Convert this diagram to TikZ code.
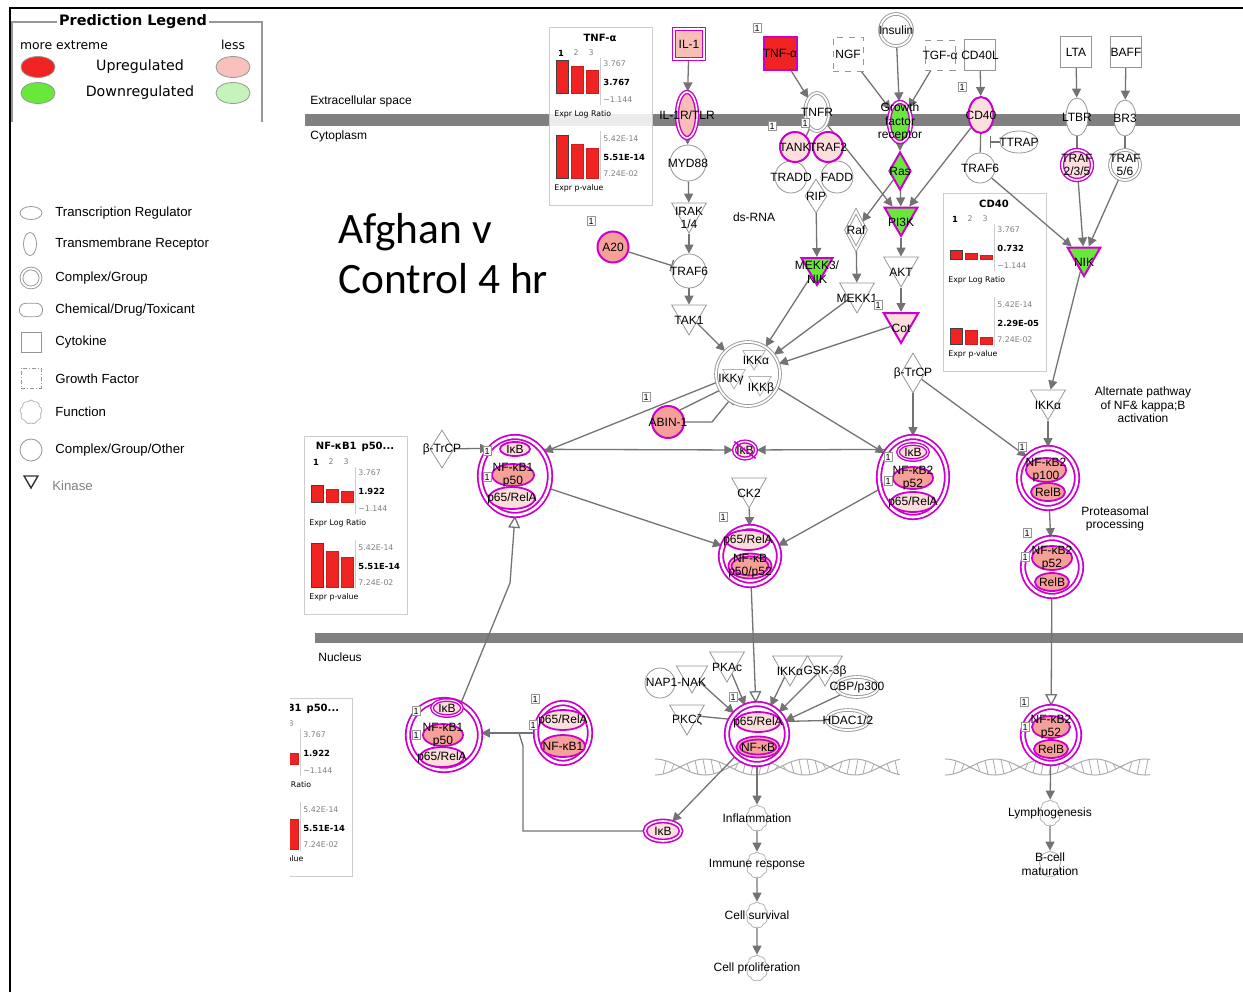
\documentclass[tikz,border=0pt]{standalone}
\usepackage{fontspec}
\setsansfont{Liberation Sans}
\newfontfamily\titlefont{Carlito}
\newfontfamily\legfont{DejaVu Sans}
\usepackage{tikz}
\usetikzlibrary{shapes.geometric,shapes.symbols,arrows.meta,backgrounds,calc}

\definecolor{mag}{RGB}{204,0,204}
\definecolor{salmon}{RGB}{245,160,152}
\definecolor{lpink}{RGB}{252,222,220}
\definecolor{upred}{RGB}{240,35,35}
\definecolor{dngreen}{RGB}{105,232,60}
\definecolor{lgreen}{RGB}{196,244,186}
\definecolor{edgegray}{RGB}{115,115,115}
\definecolor{nodegray}{RGB}{150,150,150}
\definecolor{membgray}{RGB}{128,128,128}
\definecolor{boxgray}{RGB}{205,205,205}

\newcommand{\nf}{\sffamily\fontsize{6}{6.8}\selectfont}
\newcommand{\bxf}{\legfont\fontsize{3.9}{4.5}\selectfont}
\newcommand{\bxb}{\legfont\bfseries\fontsize{4.2}{4.8}\selectfont}

\tikzset{
  lbl/.style={label={[align=center,inner sep=0pt,font=\nf]center:#1}},
  klbl/.style={label={[align=center,inner sep=0pt,font=\nf,yshift=-2.5pt]center:#1}},
  gcirc/.style={circle,draw=nodegray,fill=white,inner sep=0pt,minimum size=17pt},
  mcirc/.style={circle,draw=mag,line width=1pt,fill=lpink,inner sep=0pt,minimum size=16pt},
  kin/.style={regular polygon,regular polygon sides=3,shape border rotate=180,draw=nodegray,fill=white,inner sep=0pt,minimum size=20pt},
  mkin/.style={kin,draw=mag,line width=1pt,fill=dngreen},
  dia/.style={diamond,draw=nodegray,fill=white,inner sep=0pt,minimum width=12pt,minimum height=20pt},
  ell/.style={ellipse,draw=nodegray,fill=white,inner sep=0pt,minimum width=20pt,minimum height=11pt},
  gdbl/.style={double=white,double distance=0.9pt,line width=0.45pt},
  sq/.style={rectangle,draw=nodegray,fill=white,inner sep=0pt,minimum size=15pt},
  cplx/.style={ellipse,draw=mag,line width=0.9pt,double=white,double distance=1.3pt,fill=white,inner sep=0pt},
  sub/.style={ellipse,draw=mag,line width=0.9pt,fill=salmon,inner sep=0pt},
  fn/.style={cloud,cloud puffs=9,cloud puff arc=110,draw=nodegray!70,fill=white,inner sep=0pt,minimum width=11pt,minimum height=13pt},
  one/.style={draw=nodegray,fill=white,font=\sffamily\fontsize{4.5}{5}\selectfont,inner sep=0.8pt},
  ln/.style={draw=edgegray,line width=0.65pt},
  ar/.style={ln,-{Triangle[length=4.5pt,width=4.5pt]}},
  oar/.style={ln,-{Triangle[length=6pt,width=6pt,fill=white]}},
  inh/.style={ln,-{Bar[width=6pt]}},
}

% expression bar chart: pos, name, title, log bars, log value, p bars, p value
\newcommand{\exprbox}[7]{%
  \begin{scope}[shift={(#1)}]
    \node[draw=boxgray,line width=0.6pt,fill=white,fill opacity=.85,anchor=north west,
          minimum width=51.5pt,minimum height=89pt,inner sep=0pt] (#2) at (0,0) {};
    \node[font=\legfont\bfseries\fontsize{5}{6}\selectfont] (#2-t) at (51,11) {#3};
    \node[font=\bxb,text=black] (#2-n1) at (12,26) {1};
    \node[font=\bxf,text=gray] (#2-n2) at (27,26) {2};
    \node[font=\bxf,text=gray] (#2-n3) at (42,26) {3};
    \foreach \a/\b/\c in {#4}{
      \draw[fill=upred,draw=black!75,line width=0.5pt] (7,66) rectangle (19,{66-\a});
      \draw[fill=upred,draw=upred!85!black,line width=0.3pt] (22,66) rectangle (34,{66-\b});
      \draw[fill=upred,draw=upred!85!black,line width=0.3pt] (37,66) rectangle (49,{66-\c});
    }
    \foreach \a/\b/\c in {#6}{
      \draw[fill=upred,draw=black!75,line width=0.5pt] (7,151) rectangle (19,{151-\a});
      \draw[fill=upred,draw=upred!85!black,line width=0.3pt] (22,151) rectangle (34,{151-\b});
      \draw[fill=upred,draw=upred!85!black,line width=0.3pt] (37,151) rectangle (49,{151-\c});
    }
    \draw[boxgray,line width=0.5pt] (51,31) -- (51,78) (51,104) -- (51,153);
    \node[font=\bxf,text=gray,anchor=west,inner sep=0pt] (#2-l1) at (54,37) {3.767};
    \node[font=\bxb,anchor=west,inner sep=0pt] (#2-l2) at (54,55) {#5};
    \node[font=\bxf,text=gray,anchor=west,inner sep=0pt] (#2-l3) at (54,73) {−1.144};
    \node[font=\bxf,anchor=west,inner sep=0pt] (#2-l4) at (5,87) {Expr Log Ratio};
    \node[font=\bxf,text=gray,anchor=west,inner sep=0pt] (#2-p1) at (54,112) {5.42E-14};
    \node[font=\bxb,anchor=west,inner sep=0pt] (#2-p2) at (54,130) {#7};
    \node[font=\bxf,text=gray,anchor=west,inner sep=0pt] (#2-p3) at (54,147) {7.24E-02};
    \node[font=\bxf,anchor=west,inner sep=0pt] (#2-p4) at (5,161) {Expr p-value};
  \end{scope}}

% flat DNA ribbon
\newcommand{\dnahelix}[3]{%
  \draw[nodegray!80,line width=0.5pt] plot[domain=0:#3,samples=90] ({#1+\x},{#2+8*cos(\x*3.6)})
        plot[domain=0:#3,samples=90] ({#1+\x},{#2-8*cos(\x*3.6)});
  \foreach \s in {8,16,...,#3}
    \draw[nodegray!80,line width=0.4pt] ({#1+\s},{#2+8*cos(\s*3.6)}) -- ({#1+\s+3},{#2-8*cos((\s+3)*3.6)});
}

\begin{document}
\begin{tikzpicture}[x=0.5pt,y=-0.5pt,font=\nf]
\useasboundingbox (0,0) rectangle (1243,992);
\draw[black,line width=1pt] (10,992) -- (10,8) -- (1243,8);

% prediction legend
\draw[nodegray,line width=0.7pt] (12,122) |- (262,22) -- (262,122);
\node[fill=white,font=\legfont\bfseries\fontsize{7.2}{8}\selectfont,inner sep=1pt] (legtitle) at (133,22) {Prediction Legend};
\node[font=\legfont\fontsize{6.2}{7}\selectfont] (legmore) at (64,45) {more extreme};
\node[font=\legfont\fontsize{6.2}{7}\selectfont] (legless) at (233,45) {less};
\node[ellipse,draw=nodegray,fill=upred,minimum width=17pt,minimum height=10.5pt] (lgr1) at (38,67) {};
\node[ellipse,draw=nodegray,fill=dngreen,minimum width=17pt,minimum height=10.5pt] (lgr2) at (38,93) {};
\node[ellipse,draw=nodegray,fill=salmon!65,minimum width=17pt,minimum height=10.5pt] (lgr3) at (233,67) {};
\node[ellipse,draw=nodegray,fill=lgreen,minimum width=17pt,minimum height=10.5pt] (lgr4) at (233,93) {};
\node[font=\legfont\fontsize{7.1}{8}\selectfont] (legup) at (140,67) {Upregulated};
\node[font=\legfont\fontsize{7.1}{8}\selectfont] (legdn) at (140,93) {Downregulated};

% shape legend
\node[ell,minimum width=11pt,minimum height=6.5pt] (lgtr) at (31,213) {};
\node[ell,minimum width=6.5pt,minimum height=11.5pt] (lgtm) at (30,244) {};
\node[circle,draw=nodegray,fill=white,gdbl,minimum size=9.5pt,inner sep=0pt] (lgcg) at (31,278) {};
\node[rectangle,rounded corners=3pt,draw=nodegray,minimum width=11.5pt,minimum height=6.5pt] (lgch) at (31,310) {};
\node[sq,minimum size=10pt] (lgck) at (31,342) {};
\node[sq,minimum size=10pt,dash pattern=on 2pt off 1pt on 0.5pt off 1pt] (lggf) at (31,378) {};
\node[fn,minimum width=11pt,minimum height=12pt] (lgfn) at (31,412) {};
\node[gcirc,minimum size=11pt] (lgco) at (31,450) {};
\node[kin,draw=black!80,line width=0.7pt,minimum size=8pt] (lgkn) at (31,480) {};
\foreach \y/\t [count=\i] in {213/Transcription Regulator,244/Transmembrane Receptor,278/Complex\slash Group,
    310/Chemical\slash Drug\slash Toxicant,342/Cytokine,379/Growth Factor,412/Function,450/Complex\slash Group\slash Other}
  \node[anchor=west,inner sep=0pt,font=\sffamily\fontsize{6.6}{7.5}\selectfont] (lgt\i) at (55,\y) {\t};
\node[anchor=west,inner sep=0pt,font=\sffamily\fontsize{6.6}{7.5}\selectfont,text=gray] (lgt9) at (52,486) {Kinase};

% title
\node[anchor=base west,font=\titlefont\fontsize{21.7}{25}\selectfont,inner sep=0pt] (title1) at (338,243) {Afghan v};
\node[anchor=base west,font=\titlefont\fontsize{21.7}{25}\selectfont,inner sep=0pt] (title2) at (338,293) {Control 4 hr};

% membranes, charts, DNA
\begin{scope}[on background layer]
  \fill[membgray] (305,114) rectangle (1240,126);
  \fill[membgray] (315,633) rectangle (1243,643);
  \exprbox{549,27}{tnfbox}{TNF-α}{33/27/23}{3.767}{43/34/30}{5.51E-14}
  \exprbox{943,193}{cdbox}{CD40}{9/6/4}{0.732}{16/14/7}{2.29E-05}
  \exprbox{304,436}{nfbox}{NF-κB1\enspace p50...}{17/13/11}{1.922}{44/36/30}{5.51E-14}
  \begin{scope}
    \clip (290,690) rectangle (360,885);
    \exprbox{249,698}{nfboxn}{NF-κB1\enspace p50...}{17/13/11}{1.922}{44/36/30}{5.51E-14}
  \end{scope}
  \dnahelix{655}{767}{245}
  \dnahelix{945}{767}{205}
\end{scope}

\node[anchor=west,inner sep=0pt] (extra) at (310,101) {Extracellular space};
\node[anchor=west,inner sep=0pt] (cyto) at (310,136) {Cytoplasm};
\node[anchor=west,inner sep=0pt] (nucl) at (318,657) {Nucleus};
\node (dsrna) at (754,217) {ds-RNA};
\node[align=center] (altpw) at (1143,405) {Alternate pathway\\of NF\& kappa;B\\activation};
\node[align=center] (proteo) at (1115,519) {Proteasomal\\processing};

% IL-1 branch
\node[sq,draw=mag,line width=0.7pt,double=white,double distance=0.8pt,fill=salmon!70,lbl=IL-1] (il1) at (689,44) {};
\node[ellipse,draw=mag,line width=0.7pt,double=white,double distance=0.8pt,fill=salmon!70,inner sep=0pt,
      minimum width=10pt,minimum height=23pt,lbl=IL-1R/TLR] (il1r) at (687,115) {};
\node[gcirc,minimum size=18pt,lbl=MYD88] (myd88) at (688,163) {};
\node[kin,klbl={IRAK\\1/4}] (irak) at (689,213) {};
\node[gcirc,lbl=TRAF6] (traf6l) at (689,271) {};
\node[mcirc,fill=salmon,minimum size=15.5pt,lbl=A20] (a20) at (613,247) {};
\node[kin,klbl=TAK1] (tak1) at (689,315) {};

% TNF branch
\node[sq,draw=mag,line width=1pt,fill=upred,minimum size=16.5pt,lbl=TNF-α] (tnfa) at (780,53) {};
\node[ell,gdbl,minimum width=12pt,minimum height=19pt,lbl=TNFR] (tnfr) at (817,112) {};
\node[dia,minimum width=11pt,minimum height=17pt,lbl=RIP] (rip) at (816,196) {};
\node[gcirc,minimum size=16pt,lbl=TRADD] (tradd) at (791,177) {};
\node[gcirc,minimum size=16pt,lbl=FADD] (fadd) at (837,177) {};
\node[mcirc,minimum size=15pt,lbl=TANK] (tank) at (795,147) {};
\node[mcirc,minimum size=15pt,lbl=TRAF2] (traf2) at (828,147) {};
\node[kin,mkin,minimum size=18pt,klbl={MEKK3/\\NIK}] (mekk3) at (817,267) {};

% growth factor branch
\node[sq,dashed,minimum width=15pt,minimum height=17pt,lbl=NGF] (ngf) at (848,54) {};
\node[circle,draw=nodegray,fill=white,gdbl,minimum size=16pt,inner sep=0pt,lbl=Insulin] (ins) at (896,30) {};
\node[sq,dashed,lbl=TGF-α] (tgfa) at (940,55) {};
\node[ellipse,draw=mag,line width=0.7pt,double=white,double distance=0.8pt,fill=dngreen,inner sep=0pt,
      minimum width=11pt,minimum height=20pt,lbl={Growth\\factor\\receptor}] (gfr) at (900,122) {};
\node[dia,draw=mag,line width=1pt,fill=dngreen,minimum width=11pt,minimum height=19pt,lbl=Ras] (ras) at (900,171) {};
\node[mkin,minimum size=19pt,klbl=PI3K] (pi3k) at (901,217) {};
\node[dia,gdbl,minimum width=10pt,minimum height=19pt,lbl=Raf] (raf) at (856,230) {};
\node[kin,klbl=AKT] (akt) at (901,267) {};
\node[kin,klbl=MEKK1] (mekk1) at (857,293) {};
\node[mkin,fill=lpink,klbl=Cot] (cot) at (901,323) {};

% CD40 and alternate branch
\node[sq,minimum size=15.5pt,lbl=CD40L] (cd40l) at (980,55) {};
\node[ellipse,draw=mag,line width=1pt,fill=lpink,inner sep=0pt,minimum width=12.5pt,minimum height=18pt,lbl=CD40] (cd40) at (981,115) {};
\node[ell,minimum width=19pt,minimum height=11pt,lbl=TTRAP] (ttrap) at (1019,142) {};
\coordinate (ttbar) at (990,142);
\node[gcirc,minimum size=15pt,lbl=TRAF6] (traf6r) at (980,168) {};
\node[sq,minimum size=15.5pt,lbl=LTA] (lta) at (1076,52) {};
\node[sq,minimum size=15.5pt,lbl=BAFF] (baff) at (1126,52) {};
\node[ell,minimum width=11pt,minimum height=19pt,lbl=LTBR] (ltbr) at (1077,117) {};
\node[ell,minimum width=11pt,minimum height=18pt,lbl=BR3] (br3) at (1125,118) {};
\node[mcirc,line width=0.7pt,double=white,double distance=0.8pt,minimum size=15pt,lbl={TRAF\\2/3/5}] (t235) at (1077,165) {};
\node[circle,draw=nodegray,fill=white,gdbl,minimum size=15pt,inner sep=0pt,lbl={TRAF\\5/6}] (t56) at (1125,165) {};
\node[mkin,minimum size=19pt,klbl=NIK] (nik) at (1084,257) {};
\node[kin,klbl=IKKα] (ikkar) at (1048,400) {};

% IKK complex
\node[circle,draw=nodegray,fill=white,gdbl,minimum size=32pt,inner sep=0pt] (ikk) at (748,374) {};
\node[kin,draw=nodegray!70,minimum size=13pt] (ika) at (754,357) {};
\node[kin,draw=nodegray!70,minimum size=13pt] (ikg) at (734,376) {};
\node[kin,draw=nodegray!70,minimum size=13pt] (ikb) at (760,383) {};
\node (ikat) at (756,360) {IKKα};
\node (ikgt) at (731,380) {IKKγ};
\node (ikbt) at (761,388) {IKKβ};
\node[mcirc,fill=salmon,lbl=ABIN-1] (abin) at (668,422) {};
\coordinate (abinbend) at (712,422);
\node[dia,lbl=β-TrCP] (btr) at (913,373) {};
\node[dia,minimum height=19pt,lbl=β-TrCP] (btl) at (442,449) {};

% cytoplasmic complexes
\node[cplx,minimum width=35pt,minimum height=39pt] (lcx) at (515,476) {};
\node[sub,fill=lpink,minimum width=15pt,minimum height=7pt,lbl=IκB] (lc1) at (515,449) {};
\node[sub,minimum width=21pt,minimum height=11pt,lbl={NF-κB1\\p50}] (lc2) at (513,475) {};
\node[sub,fill=lpink,minimum width=23pt,minimum height=11pt,lbl=p65/RelA] (lc3) at (512,498) {};

\node[ellipse,draw=mag,line width=0.7pt,double=white,double distance=0.7pt,fill=lpink,inner sep=0pt,
      minimum width=11pt,minimum height=8.5pt,lbl=IκB] (ikbx) at (745,450) {};
\draw[mag,line width=0.8pt,shorten <=-1.5pt,shorten >=-1.5pt] (ikbx.north west) -- (ikbx.south east);
\node[kin,klbl=CK2] (ck2) at (749,488) {};

\node[cplx,minimum width=29pt,minimum height=29pt] (ccx) at (750,556) {};
\node[sub,fill=lpink,minimum width=22pt,minimum height=10pt,lbl=p65/RelA] (cc1) at (748,540) {};
\node[sub,double=salmon!80,double distance=0.6pt,minimum width=20pt,minimum height=11pt,lbl={NF-κB\\p50/p52}] (cc2) at (750,566) {};

\node[cplx,minimum width=34pt,minimum height=40pt] (rcx) at (913,477) {};
\node[sub,fill=lpink,double=white,double distance=0.5pt,line width=0.7pt,minimum width=15pt,minimum height=8pt,lbl=IκB] (rc1) at (913,452) {};
\node[sub,minimum width=20pt,minimum height=11pt,lbl={NF-κB2\\p52}] (rc2) at (913,478) {};
\node[sub,fill=lpink,minimum width=22pt,minimum height=10pt,lbl=p65/RelA] (rc3) at (913,502) {};

\node[cplx,minimum width=29pt,minimum height=30pt] (pcx) at (1048,478) {};
\node[sub,minimum width=20pt,minimum height=12pt,lbl={NF-κB2\\p100}] (pc1) at (1046,470) {};
\node[sub,minimum width=17pt,minimum height=9pt,lbl=RelB] (pc2) at (1048,492) {};

\node[cplx,minimum width=29pt,minimum height=29pt] (p52cx) at (1052,567) {};
\node[sub,minimum width=20pt,minimum height=12pt,lbl={NF-κB2\\p52}] (p521) at (1052,558) {};
\node[sub,minimum width=17pt,minimum height=9pt,lbl=RelB] (p522) at (1052,582) {};

% nucleus
\node[cplx,minimum width=36pt,minimum height=35pt] (nlcx) at (444,735) {};
\node[sub,fill=lpink,double=white,double distance=0.5pt,line width=0.7pt,minimum width=15pt,minimum height=8pt,lbl=IκB] (nl1) at (447,708) {};
\node[sub,minimum width=20pt,minimum height=11pt,lbl={NF-κB1\\p50}] (nl2) at (443,735) {};
\node[sub,fill=lpink,minimum width=22pt,minimum height=10pt,lbl=p65/RelA] (nl3) at (442,757) {};
\coordinate (kink) at (510,583);

\node[cplx,minimum width=27pt,minimum height=30pt] (rnfcx) at (563,733) {};
\node[sub,fill=lpink,minimum width=22pt,minimum height=10pt,lbl=p65/RelA] (rn1) at (563,720) {};
\node[sub,minimum width=22pt,minimum height=11pt,lbl=NF-κB1] (rn2) at (563,746) {};

\node[gcirc,minimum size=15pt] (nap) at (660,683) {};
\node[kin,minimum size=18pt] (naptri) at (692,675) {};
\node (naptxt) at (676,682) {NAP1-NAK};
\node[kin,klbl=PKAc] (pkac) at (727,662) {};
\node[kin,klbl=IKKα] (ikkan) at (790,666) {};
\node[kin,klbl=GSK-3β] (gsk) at (825,666) {};
\node[ell,gdbl,minimum width=21pt,minimum height=10pt,lbl=CBP/p300] (cbp) at (857,687) {};
\node[kin,klbl=PKCζ] (pkcz) at (687,715) {};
\node[ell,gdbl,minimum width=21pt,minimum height=10pt,lbl=HDAC1/2] (hdac) at (848,720) {};

\node[cplx,minimum width=30pt,minimum height=30pt] (ncx) at (757,734) {};
\node[sub,fill=lpink,minimum width=22pt,minimum height=10pt,lbl=p65/RelA] (n65) at (758,722) {};
\node[sub,double=salmon!80,double distance=0.6pt,minimum width=20pt,minimum height=9pt,lbl=NF-κB] (nnf) at (758,747) {};

\node[ellipse,draw=mag,line width=0.8pt,double=white,double distance=0.8pt,fill=lpink,inner sep=0pt,
      minimum width=18pt,minimum height=10pt,lbl=IκB] (nikb) at (663,831) {};
\coordinate (elb) at (523,746);
\coordinate (junc) at (519,733);

\node[fn,lbl=Inflammation] (infl) at (757,818) {};
\node[fn,lbl=Immune response] (imm) at (757,865) {};
\node[fn,lbl=Cell survival] (surv) at (757,915) {};
\node[fn,lbl=Cell proliferation] (prol) at (757,968) {};

\node[cplx,minimum width=28pt,minimum height=28pt] (np52cx) at (1051,735) {};
\node[sub,minimum width=19pt,minimum height=11pt,lbl={NF-κB2\\p52}] (np1) at (1051,727) {};
\node[sub,minimum width=17pt,minimum height=9pt,lbl=RelB] (np2) at (1051,749) {};
\node[fn,lbl=Lymphogenesis] (lymph) at (1050,813) {};
\node[fn,lbl={B-cell\\maturation}] (bcell) at (1050,864) {};

% small count tags
\foreach \p [count=\i] in {(591,221),(757,28),(772,126),(805,123),(962,87),(646,397),(878,305),(723,517),
    (1022,447),(1027,533),(1025,557),(535,699),(533,725),(733,697),(1024,702),(1025,727),
    (487,451),(487,477),(888,457),(888,481),(416,711),(416,735)}
  \node[one] (one\i) at \p {1};

% connectors
\begin{scope}[on background layer]
  \draw[ar] (il1) -- (il1r);
  \draw[ar] (il1r) -- (myd88);
  \draw[ar] (myd88) -- (irak);
  \draw[ar] (irak) -- (traf6l);
  \draw[inh] (a20) -- (traf6l);
  \draw[ar] (traf6l) -- (tak1);
  \draw[ar] (tak1) -- (ikk);
  \draw[ar] (tnfa) -- (tnfr);
  \draw[ln] (tnfr) -- (tank.north east);
  \draw[ar] (tnfr) -- (pi3k);
  \draw[ar] (rip) -- (mekk3);
  \draw[ar] (mekk3) -- (ikk);
  \draw[ar] (ngf) -- (gfr);
  \draw[ar] (ins) -- (gfr);
  \draw[ar] (tgfa) -- (gfr);
  \draw[ar] (gfr) -- (ras);
  \draw[ar] (ras) -- (pi3k);
  \draw[ar] (ras) -- (raf);
  \draw[ar] (raf) -- (mekk1);
  \draw[ar] (mekk1) -- (ikk);
  \draw[ar] (pi3k) -- (akt);
  \draw[ar] (akt) -- (cot);
  \draw[ar] (cot) -- (ikk);
  \draw[ar] (cd40l) -- (cd40);
  \draw[ar] (cd40) -- (pi3k);
  \draw[ln] (cd40) -- (traf6r);
  \draw[inh] (ttrap) -- (ttbar);
  \draw[ar] (traf6r) -- (nik);
  \draw[ar] (lta) -- (ltbr);
  \draw[ar] (baff) -- (br3);
  \draw[ln] (ltbr) -- (t235);
  \draw[ln] (br3) -- (t56);
  \draw[ar] (t235) -- (nik);
  \draw[ar] (t56) -- (nik);
  \draw[ar] (nik) -- (ikkar);
  \draw[ar] (ikkar) -- (pcx);
  \draw[ar] (btr) -- (rcx);
  \draw[ar] (btr) -- (pcx.135);
  \draw[ar] (ikk.195) -- (lcx.40);
  \draw[ar] (ikk.-25) -- (rcx.140);
  \draw[ln] (ikk.210) -- (abin.north east);
  \draw[inh] (abin.east) -- (abinbend) -- (ikk.235);
  \draw[ar] (btl) -- (lcx.133);
  \draw[ar] (lcx.45) -- (ikbx);
  \draw[ar] (rcx.133) -- (ikbx);
  \draw[ar] (lcx.-20) -- (ccx.160);
  \draw[ar] (rcx.200) -- (ccx.20);
  \draw[ar] (ck2) -- (ccx);
  \draw[oar] (ccx) -- (ncx);
  \draw[ar] (pcx) -- (p52cx);
  \draw[oar] (p52cx) -- (np52cx);
  \draw[oar] (nlcx.62) -- (kink) -- (lcx.south);
  \draw[ar] (rnfcx.west) -- (rnfcx.west -| nlcx.east);
  \draw[ln] (nikb.west) -| (elb) -- (junc);
  \draw[ar] (ncx) -- (nikb);
  \draw[ar] (naptri) -- (ncx);
  \draw[ar] (pkac) -- (ncx);
  \draw[ar] (ikkan) -- (ncx);
  \draw[ar] (gsk) -- (ncx);
  \draw[ar] (cbp) -- (ncx);
  \draw[ln] (pkcz) -- (n65);
  \draw[ln] (hdac) -- (n65);
  \draw[ar] (ncx) -- (infl);
  \draw[ar] (infl) -- (imm);
  \draw[ar] (imm) -- (surv);
  \draw[ar] (surv) -- (prol);
  \draw[ar] (np52cx) -- (lymph);
  \draw[ar] (lymph) -- (bcell);
\end{scope}
\end{tikzpicture}
\end{document}
